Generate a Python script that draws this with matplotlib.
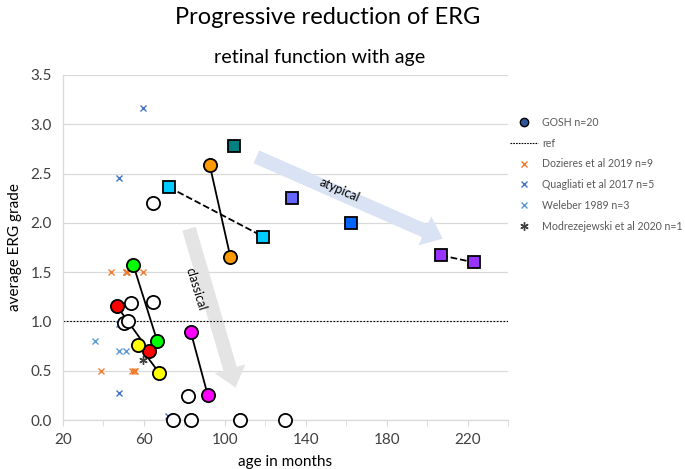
import matplotlib
matplotlib.use('Agg')
import matplotlib.pyplot as plt
from matplotlib.lines import Line2D

plt.rcParams['font.family'] = ['Lato', 'DejaVu Sans']

# GOSH patients followed twice (age in months, average ERG grade)
green_age = [54.8, 66.6]
green_erg = [1.57, 0.80]
red_age = [46.5, 62.6]
red_erg = [1.16, 0.70]
yellow_age = [57.3, 67.5]
yellow_erg = [0.76, 0.48]
magenta_age = [83.2, 91.6]
magenta_erg = [0.89, 0.25]
orange_age = [92.5, 102.8]
orange_erg = [2.59, 1.65]
cyan_age = [72.5, 119.0]
cyan_erg = [2.36, 1.86]
purple_age = [207.0, 223.0]
purple_erg = [1.67, 1.60]

# GOSH single visits (atypical squares)
teal_age = [104.3]
teal_erg = [2.78]
slate_age = [133.0]
slate_erg = [2.25]
blue_age = [162.6]
blue_erg = [2.00]

# GOSH single visits (classical, open circles)
open_age = [64.6, 53.8, 64.6, 50.0, 51.9, 81.8, 74.4, 83.2, 107.3, 129.8]
open_erg = [2.20, 1.19, 1.20, 0.98, 1.00, 0.24, 0.0, 0.0, 0.0, 0.0]

# literature
dozieres_age = [43.5, 51.0, 51.5, 59.7, 51.0, 38.6, 54.3, 55.8, 55.0]
dozieres_erg = [1.5, 1.5, 1.5, 1.5, 1.5, 0.5, 0.5, 0.5, 0.5]
quagliati_age = [59.7, 47.5, 47.5, 47.5, 72.0]
quagliati_erg = [3.17, 2.46, 0.97, 0.27, 0.04]
weleber_age = [36.0, 47.5, 51.0]
weleber_erg = [0.80, 0.70, 0.70]
modrez_age = [59.7]
modrez_erg = [0.61]

ref_level = 1.0

fig = plt.figure(figsize=(6.85, 4.69), dpi=100)
ax = fig.add_axes([63/685, 1-420/469, (508-63)/685, (420-75)/469])

ax.set_xlim(20, 240)
ax.set_ylim(0, 3.5)

# trend arrows
arrow_kw = dict(arrowstyle='simple,head_length=1.4,head_width=2.3,tail_width=1.0',
                mutation_scale=10, shrinkA=0, shrinkB=0, lw=0)
ax.annotate('', xy=(105.3, 0.33), xytext=(82.3, 1.94),
            arrowprops=dict(fc='#e4e4e4', **arrow_kw), zorder=1)
ax.annotate('', xy=(207.7, 1.84), xytext=(115.6, 2.67),
            arrowprops=dict(fc='#dae3f3', **arrow_kw), zorder=1)
ax.text(85.7, 1.33, 'classical', rotation=-73, ha='center', va='center', fontsize=9, zorder=2)
ax.text(156.8, 2.33, 'atypical', rotation=-23.5, ha='center', va='center', fontsize=9, zorder=2)

ax.axhline(ref_level, color='black', ls=(0, (1.5, 1.5)), lw=0.8, zorder=2)

# lines joining repeat visits
for a, e, ls in [(green_age, green_erg, '-'), (red_age, red_erg, '-'),
                 (yellow_age, yellow_erg, '-'), (magenta_age, magenta_erg, '-'),
                 (orange_age, orange_erg, '-'), (cyan_age, cyan_erg, '--'),
                 (purple_age, purple_erg, '--')]:
    ax.plot(a, e, color='black', ls=ls, lw=1.3, zorder=3)

circ = dict(marker='o', ms=9.5, mec='black', mew=1.3, ls='none', zorder=4, clip_on=False)
sq = dict(marker='s', ms=9, mec='black', mew=1.3, ls='none', zorder=4, clip_on=False)
ax.plot(green_age, green_erg, mfc='#00ff00', **circ)
ax.plot(red_age, red_erg, mfc='#ff0000', **circ)
ax.plot(yellow_age, yellow_erg, mfc='#ffff00', **circ)
ax.plot(magenta_age, magenta_erg, mfc='#ff00ff', **circ)
ax.plot(orange_age, orange_erg, mfc='#ff9900', **circ)
ax.plot(open_age, open_erg, mfc='white', **circ)
ax.plot(cyan_age, cyan_erg, mfc='#00ccff', **sq)
ax.plot(purple_age, purple_erg, mfc='#9933ff', **sq)
ax.plot(teal_age, teal_erg, mfc='#008080', **sq)
ax.plot(slate_age, slate_erg, mfc='#6666ff', **sq)
ax.plot(blue_age, blue_erg, mfc='#0066ff', **sq)

x_kw = dict(marker='x', ms=5, mew=1.0, ls='none', zorder=3, clip_on=False)
ax.plot(dozieres_age, dozieres_erg, color='#ed7d31', **x_kw)
ax.plot(quagliati_age, quagliati_erg, color='#4472c4', **x_kw)
ax.plot(weleber_age, weleber_erg, color='#5b9bd5', **x_kw)
ax.plot(modrez_age, modrez_erg, color='#404040', marker=(6, 2, 0), ms=6, mew=1.0,
        ls='none', zorder=3)

# axes styling
ax.set_yticks([0, 0.5, 1.0, 1.5, 2.0, 2.5, 3.0, 3.5])
ax.set_yticklabels(['0.0', '0.5', '1.0', '1.5', '2.0', '2.5', '3.0', '3.5'])
ax.set_xticks([20, 60, 100, 140, 180, 220])
ax.set_xticks([40, 80, 120, 160, 200, 240], minor=True)
ax.yaxis.grid(True, color='#d9d9d9', lw=0.9, zorder=0)
ax.set_axisbelow(True)
for s in ['top', 'right']:
    ax.spines[s].set_visible(False)
for s in ['left', 'bottom']:
    ax.spines[s].set_color('#d9d9d9')
    ax.spines[s].set_linewidth(0.9)
ax.tick_params(axis='y', length=0, labelsize=11, pad=8, labelcolor='#404040')
ax.tick_params(axis='x', which='both', length=4, color='#d9d9d9', labelsize=11,
               pad=5, labelcolor='#404040')
ax.set_xlabel('age in months', fontsize=11, labelpad=6)
ax.set_ylabel('average ERG grade', fontsize=11, labelpad=6)

fig.text(328/685, 1-18/469, 'Progressive reduction of ERG', ha='center', va='center', fontsize=17)
fig.text(320/685, 1-57/469, 'retinal function with age', ha='center', va='center', fontsize=14.2)

handles = [
    Line2D([], [], marker='o', ms=6, mfc='#2f5597', mec='black', mew=1.0, ls='none'),
    Line2D([], [], color='black', ls=(0, (1.5, 1.0)), lw=0.8),
    Line2D([], [], marker='x', ms=5, color='#ed7d31', ls='none'),
    Line2D([], [], marker='x', ms=5, color='#4472c4', ls='none'),
    Line2D([], [], marker='x', ms=5, color='#5b9bd5', ls='none'),
    Line2D([], [], marker=(6, 2, 0), ms=6, color='#404040', ls='none'),
]
labels = ['GOSH n=20', 'ref', 'Dozieres et al 2019 n=9', 'Quagliati et al 2017 n=5',
          'Weleber 1989 n=3', 'Modrezejewski et al 2020 n=1']
fig.legend(handles, labels, loc='upper left', bbox_to_anchor=(510/685, 1-117/469),
           frameon=False, fontsize=7.6, labelcolor='#595959', handlelength=2.65,
           handletextpad=0.38, labelspacing=0.92, borderpad=0, borderaxespad=0)

fig.savefig('out.png', dpi=100)
